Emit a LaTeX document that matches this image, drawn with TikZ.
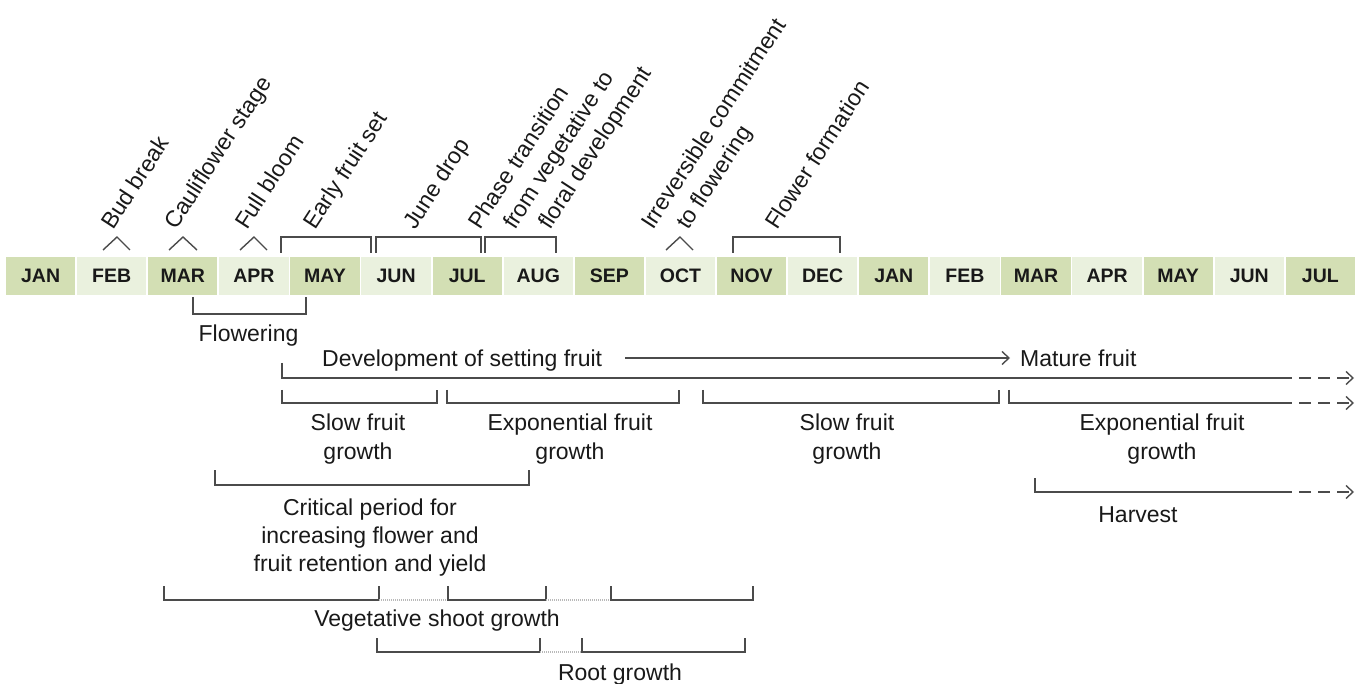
\documentclass[tikz,border=0pt]{standalone}
\usepackage{fontspec}
\setmainfont{Liberation Sans}
\usetikzlibrary{arrows.meta}
\definecolor{cellA}{RGB}{211,223,180}
\definecolor{cellB}{RGB}{234,241,222}
\definecolor{ln}{RGB}{75,75,75}
\definecolor{tx}{RGB}{25,25,25}
\begin{document}
\begin{tikzpicture}[x=1pt,y=-1pt,
  lbl/.style={font=\fontsize{23}{27}\selectfont, text=tx, inner sep=0pt},
  ctr/.style={lbl, anchor=base},
  lft/.style={lbl, anchor=base west},
  rot/.style={lbl, rotate=57, anchor=base west},
  month/.style={minimum width=69.3pt, minimum height=38pt, inner sep=0pt,
    font=\fontsize{19.5}{20}\selectfont\bfseries, text=tx},
  brk/.style={draw=ln, line width=1.4pt},
  dotseg/.style={draw=gray!55, line width=1.5pt, dash pattern=on 1pt off 1pt},
  dashtip/.style={draw=ln, line width=1.4pt, dash pattern=on 12pt off 7pt,
    -{Straight Barb[length=7pt,width=13pt,line width=1.4pt]}},
  tip/.style={draw=ln, line width=1.4pt,
    -{Straight Barb[length=7pt,width=13pt,line width=1.4pt]}}
]
\useasboundingbox (0,0) rectangle (1363,684);

% month bar
\foreach \m/\c [count=\i from 0] in {JAN/cellA,FEB/cellB,MAR/cellA,APR/cellB,MAY/cellA,JUN/cellB,JUL/cellA,AUG/cellB,SEP/cellA,OCT/cellB,NOV/cellA,DEC/cellB,JAN/cellA,FEB/cellB,MAR/cellA,APR/cellB,MAY/cellA,JUN/cellB,JUL/cellA}
  \node[month, fill=\c] (m\i) at ({40.6+71.1*\i},276) {\m};

% top markers
\draw[brk] (103,250) -- (117,237) -- (130,250);
\draw[brk] (169,250) -- (183,237) -- (197,250);
\draw[brk] (240,250) -- (254,237) -- (267,250);
\draw[brk] (666,250) -- (680,237) -- (693,250);
\draw[brk] (281,253) -- (281,237) -- (371,237) -- (371,253);
\draw[brk] (376,253) -- (376,237) -- (481,237) -- (481,253);
\draw[brk] (485,253) -- (485,237) -- (556,237) -- (556,253);
\draw[brk] (733,253) -- (733,237) -- (840,237) -- (840,253);

% rotated labels
\node[rot] (t1) at (113,231) {Bud break};
\node[rot] (t2) at (176,231) {Cauliflower stage};
\node[rot] (t3) at (247,231) {Full bloom};
\node[rot] (t4) at (315,231) {Early fruit set};
\node[rot] (t5) at (415,231) {June drop};
\node[rot] (t6a) at (480,231) {Phase transition};
\node[rot] (t6b) at (515,231) {from vegetative to};
\node[rot] (t6c) at (550,231) {floral development};
\node[rot] (t7a) at (653,231) {Irreversible commitment};
\node[rot] (t7b) at (688,231) {to flowering};
\node[rot] (t8) at (777,231) {Flower formation};

% flowering
\draw[brk] (193,297) -- (193,314) -- (306,314) -- (306,297);
\node[ctr] (flw) at (248.5,342) {Flowering};

% development of setting fruit
\node[lft] (dev) at (322,367) {Development of setting fruit};
\node[lft] (mat) at (1020,367) {Mature fruit};
\coordinate (arA) at (625,358);
\coordinate (arB) at (1010,358);
\draw[tip] (arA) -- (arB);

\coordinate (d0) at (1280,378);
\coordinate (d1) at (1354,378);
\draw[brk] (282,363) -- (282,378) -- (d0);
\draw[dashtip] (d0) -- (d1);

% fruit growth phases
\draw[brk] (282,390) -- (282,403) -- (437,403) -- (437,390);
\draw[brk] (447,390) -- (447,403) -- (679,403) -- (679,390);
\draw[brk] (703,390) -- (703,403) -- (999,403) -- (999,390);
\coordinate (e0) at (1280,403);
\coordinate (e1) at (1354,403);
\draw[brk] (1009,390) -- (1009,403) -- (e0);
\draw[dashtip] (e0) -- (e1);

\node[ctr] (s1a) at (358,431) {Slow fruit};
\node[ctr] (s1b) at (358,459) {growth};
\node[ctr] (x1a) at (570,431) {Exponential fruit};
\node[ctr] (x1b) at (570,459) {growth};
\node[ctr] (s2a) at (847,431) {Slow fruit};
\node[ctr] (s2b) at (847,459) {growth};
\node[ctr] (x2a) at (1162,431) {Exponential fruit};
\node[ctr] (x2b) at (1162,459) {growth};

% critical period
\draw[brk] (215,470) -- (215,485) -- (529,485) -- (529,470);
\node[ctr] (c1) at (370,515) {Critical period for};
\node[ctr] (c2) at (370,543) {increasing flower and};
\node[ctr] (c3) at (370,571) {fruit retention and yield};

% harvest
\coordinate (h0) at (1280,492);
\coordinate (h1) at (1354,492);
\draw[brk] (1035,478) -- (1035,492) -- (h0);
\draw[dashtip] (h0) -- (h1);
\node[ctr] (hv) at (1138,522) {Harvest};

% vegetative shoot growth
\draw[brk] (164,586) -- (164,600) -- (379,600) -- (379,586);
\draw[dotseg] (379,600) -- (448,600);
\draw[brk] (448,586) -- (448,600) -- (546,600) -- (546,586);
\draw[dotseg] (546,600) -- (611,600);
\draw[brk] (611,586) -- (611,600) -- (753,600) -- (753,586);
\node[ctr] (veg) at (437,626) {Vegetative shoot growth};

% root growth
\draw[brk] (377,638) -- (377,652) -- (540,652) -- (540,638);
\draw[dotseg] (540,652) -- (582,652);
\draw[brk] (582,638) -- (582,652) -- (745,652) -- (745,638);
\node[ctr] (root) at (620,680) {Root growth};
\end{tikzpicture}
\end{document}
